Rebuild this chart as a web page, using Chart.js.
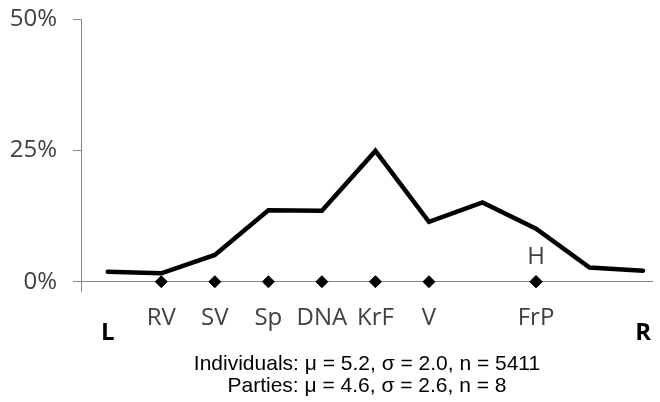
<!DOCTYPE html>
<html lang="en">
<head>
    <meta charset="UTF-8">
    <title>Left-right self-placement</title>
    <script src="https://cdn.jsdelivr.net/npm/chart.js"></script>
    <style>
        body {
            margin: 0;
            background: #fff;
        }
        #chart-container {
            width: 660px;
            height: 402px;
            position: relative;
        }
    </style>
</head>
<body>
    <div id="chart-container">
        <canvas id="chart"></canvas>
    </div>

    <script>
        // Scale positions 0 (left) .. 10 (right) and share of individuals at each
        const scalePoints = [0, 1, 2, 3, 4, 5, 6, 7, 8, 9, 10];
        const individualShare = [1.9, 1.6, 5.1, 13.6, 13.5, 24.9, 11.4, 15.1, 10.1, 2.7, 2.1];

        // Party placements on the same scale
        const partyNames = ['RV', 'SV', 'Sp', 'DNA', 'KrF', 'V', 'FrP', 'H'];
        const partyPositions = [1, 2, 3, 4, 5, 6, 8, 8];
        const partyLabelAbove = ['H'];

        const yTicks = [0, 25, 50];
        const endLabels = ['L', 'R'];
        const summaryLines = [
            'Individuals: \u03bc = 5.2, \u03c3 = 2.0, n = 5411',
            'Parties: \u03bc = 4.6, \u03c3 = 2.6, n = 8'
        ];

        const axisGray = '#868686';
        const textGray = '#404040';

        // Draws party names, L/R ends and the summary text from the scales
        const textPlugin = {
            id: 'texts',
            afterDraw(chart) {
                const ctx = chart.ctx;
                const xs = chart.scales.x;
                const ys = chart.scales.y;
                const zeroY = ys.getPixelForValue(0);
                ctx.save();
                ctx.textAlign = 'center';
                ctx.textBaseline = 'alphabetic';

                ctx.font = '24px "Open Sans"';
                ctx.fillStyle = textGray;
                partyNames.forEach((name, i) => {
                    const px = xs.getPixelForValue(partyPositions[i]);
                    if (partyLabelAbove.includes(name)) {
                        ctx.fillText(name, px, zeroY - 18);
                    } else {
                        ctx.fillText(name, px, zeroY + 43);
                    }
                });

                ctx.font = 'bold 24px "Open Sans"';
                ctx.fillStyle = '#000';
                ctx.fillText(endLabels[0], xs.getPixelForValue(scalePoints[0]), zeroY + 58);
                ctx.fillText(endLabels[1], xs.getPixelForValue(scalePoints[scalePoints.length - 1]), zeroY + 58);

                ctx.font = '21px "Liberation Sans"';
                const cx = (chart.chartArea.left + chart.chartArea.right) / 2;
                summaryLines.forEach((line, i) => {
                    ctx.fillText(line, cx, zeroY + 88 + i * 22);
                });
                ctx.restore();
            }
        };

        const ctx = document.getElementById('chart').getContext('2d');
        new Chart(ctx, {
            type: 'scatter',
            data: {
                datasets: [
                    {
                        label: 'Parties',
                        data: partyPositions.map(p => ({ x: p, y: 0 })),
                        pointStyle: 'rectRot',
                        pointRadius: 6,
                        backgroundColor: '#000',
                        borderColor: '#000',
                        borderWidth: 1,
                        showLine: false
                    },
                    {
                        label: 'Individuals',
                        data: scalePoints.map((p, i) => ({ x: p, y: individualShare[i] })),
                        showLine: true,
                        borderColor: '#000',
                        borderWidth: 4.5,
                        borderCapStyle: 'round',
                        borderJoinStyle: 'miter',
                        tension: 0,
                        pointRadius: 0
                    }
                ]
            },
            options: {
                responsive: true,
                maintainAspectRatio: false,
                devicePixelRatio: 1,
                animation: false,
                layout: {
                    padding: { left: 0, right: 0, top: 19, bottom: 110.3 }
                },
                plugins: {
                    legend: { display: false },
                    tooltip: { enabled: false }
                },
                scales: {
                    x: {
                        type: 'linear',
                        display: false,
                        min: -0.5,
                        max: 10.185
                    },
                    y: {
                        min: -1.9,
                        max: 50,
                        afterBuildTicks: scale => {
                            scale.ticks = yTicks.map(v => ({ value: v }));
                        },
                        afterFit: scale => {
                            scale.width = 81;
                            scale.paddingTop = 0;
                            scale.paddingBottom = 0;
                        },
                        border: { display: true, color: axisGray, width: 1 },
                        grid: {
                            drawTicks: true,
                            tickLength: 8,
                            tickColor: axisGray,
                            color: c => (c.tick && c.tick.value === 0 ? axisGray : 'rgba(0,0,0,0)')
                        },
                        ticks: {
                            padding: 16,
                            color: textGray,
                            font: { family: 'Open Sans', size: 24 },
                            callback: v => v + '%'
                        }
                    }
                }
            },
            plugins: [textPlugin]
        });
    </script>
</body>
</html>
